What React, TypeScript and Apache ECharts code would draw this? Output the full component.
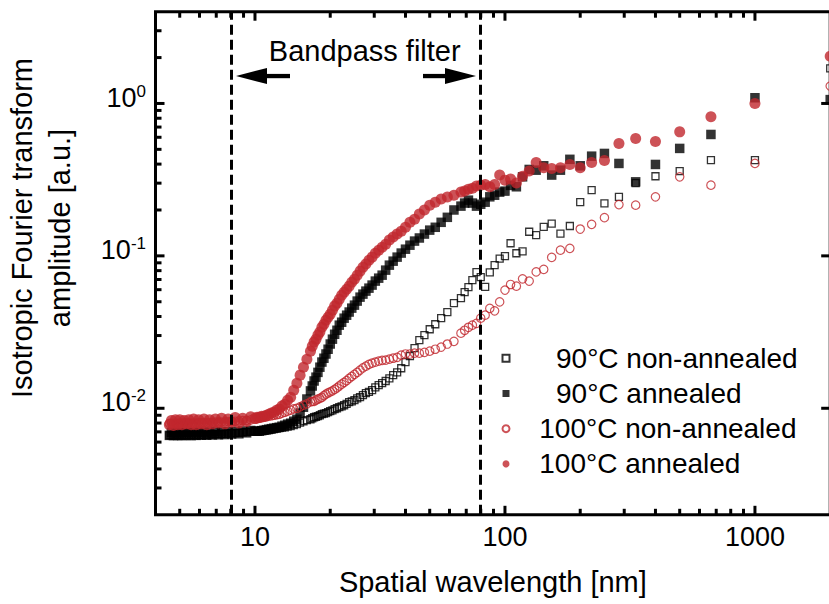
import React, { useEffect, useRef } from 'react';
import * as echarts from 'echarts';

// Spatial wavelengths (nm) of the Fourier components (shared by all four samples)
const WAVELENGTH_NM = [
  2000, 1000, 666.7, 500, 400, 333.3, 285.7, 250, 222.2, 200, 181.8, 166.7, 153.8, 142.9, 133.3, 125, 117.6, 111.1, 105.3, 100,
  95.24, 90.91, 86.96, 83.33, 80, 76.92, 74.07, 71.43, 68.97, 66.67,
  62.5, 58.82, 55.56, 52.63, 50, 47.62, 45.45, 43.48, 41.67, 40, 38.46, 37.04, 35.71, 34.48, 33.33,
  32.26, 31.25, 30.3, 29.41, 28.57, 27.78, 27.03, 26.32, 25.64, 25, 24.39, 23.81, 23.26, 22.73, 22.22,
  21.74, 21.28, 20.83, 20.41, 20, 19.61, 19.23, 18.87, 18.52, 18.18, 17.86, 17.54, 17.24, 16.95, 16.67,
  16.13, 15.63, 15.15, 14.71, 14.29, 13.89, 13.51, 13.16, 12.82, 12.5, 12.2, 11.9, 11.63, 11.36, 11.11,
  10.87, 10.64, 10.42, 10.2, 10,
  9.615, 9.259, 8.929, 8.621, 8.333, 8.065, 7.813, 7.576, 7.353, 7.143, 6.944, 6.757, 6.579, 6.41, 6.25,
  6.098, 5.952, 5.814, 5.682, 5.556, 5.435, 5.319, 5.208, 5.102, 5, 4.902, 4.808, 4.717, 4.63, 4.545,
];

const NON_ANNEALED_90 = [
  1.70, 0.425, 0.425, 0.36, 0.333, 0.30, 0.244, 0.221, 0.27, 0.225, 0.157, 0.140, 0.163, 0.155, 0.137, 0.144, 0.107, 0.104, 0.121, 0.0995,
  0.096, 0.087, 0.078, 0.0626, 0.0725, 0.0782, 0.0693, 0.0623, 0.0578, 0.0528,
  0.0489, 0.0428, 0.039, 0.0356, 0.033, 0.0302, 0.028, 0.0248, 0.022, 0.0201, 0.0183, 0.0172, 0.0165, 0.0157, 0.0151,
  0.0146, 0.0142, 0.0137, 0.01315, 0.0128, 0.01256, 0.0122, 0.01183, 0.0116, 0.0113, 0.0111, 0.01096, 0.0107, 0.01047, 0.0103,
  0.01016, 0.0100, 0.00987, 0.0097, 0.00958, 0.00944, 0.0093, 0.00922, 0.00914, 0.009, 0.00887, 0.0088, 0.00873, 0.0086, 0.00847,
  0.00835, 0.00822, 0.00805, 0.00787, 0.00775, 0.00763, 0.00757, 0.00751, 0.00746, 0.0074, 0.00735, 0.00729, 0.00724, 0.00718, 0.00716,
  0.00713, 0.0071, 0.00707, 0.00705, 0.00707,
  0.00703, 0.00697, 0.00695, 0.0069, 0.00687, 0.00685, 0.00683, 0.0068, 0.00678, 0.00676, 0.00676, 0.00674, 0.00672, 0.00672, 0.0067,
  0.0067, 0.00668, 0.00668, 0.00668, 0.00666, 0.00668, 0.00666, 0.00666, 0.00664, 0.00666, 0.00664, 0.00666, 0.00664, 0.00664, 0.00664,
];

const ANNEALED_90 = [
  1.06, 1.09, 0.626, 0.507, 0.398, 0.306, 0.404, 0.47, 0.451, 0.39, 0.43, 0.365, 0.339, 0.39, 0.365, 0.369, 0.33, 0.284, 0.29, 0.266,
  0.262, 0.25, 0.244, 0.225, 0.218, 0.212, 0.222, 0.232, 0.222, 0.212,
  0.200, 0.179, 0.166, 0.154, 0.1475, 0.139, 0.131, 0.125, 0.1175, 0.1106, 0.1043, 0.0981, 0.0923, 0.0869, 0.0806,
  0.0747, 0.0714, 0.0683, 0.0643, 0.0614, 0.0587, 0.0561, 0.0536, 0.0505, 0.0475, 0.0454, 0.0428, 0.0408, 0.039, 0.0367,
  0.0351, 0.0325, 0.0306, 0.0284, 0.0264, 0.0244, 0.0227, 0.0213, 0.0201, 0.0186, 0.0172, 0.016, 0.0151, 0.014, 0.013,
  0.0115, 0.01016, 0.0093, 0.00847, 0.00822, 0.00798, 0.00787, 0.00774, 0.00763, 0.00751, 0.00746, 0.0074, 0.00735, 0.00729, 0.00724,
  0.00718, 0.00713, 0.00707, 0.00707, 0.00707,
  0.00715, 0.0069, 0.0071, 0.0068, 0.00705, 0.00678, 0.00702, 0.00672, 0.007, 0.0067, 0.007, 0.00668, 0.00698, 0.00665, 0.00698,
  0.00665, 0.00696, 0.00664, 0.00698, 0.00662, 0.00696, 0.00664, 0.00695, 0.00662, 0.00696, 0.00663, 0.00695, 0.00662, 0.00694, 0.00664,
];

const NON_ANNEALED_100 = [
  1.30, 0.404, 0.291, 0.33, 0.244, 0.215, 0.217, 0.178, 0.161, 0.150, 0.112, 0.109, 0.0977, 0.0815, 0.0785, 0.0683, 0.0707, 0.0633, 0.0649, 0.0596,
  0.0499, 0.0436, 0.0452, 0.0408, 0.039, 0.0361, 0.0351, 0.034, 0.0325, 0.0311,
  0.0275, 0.0264, 0.0252, 0.0244, 0.0237, 0.0233, 0.023, 0.023, 0.0227, 0.0227, 0.0223, 0.0216, 0.0213, 0.021, 0.0207,
  0.0206, 0.0204, 0.0201, 0.0198, 0.0194, 0.0189, 0.0184, 0.0178, 0.0172, 0.0167, 0.0162, 0.0157, 0.0152, 0.0148, 0.0144,
  0.014, 0.0136, 0.0133, 0.013, 0.0128, 0.0126, 0.0124, 0.0121, 0.0118, 0.0116, 0.0115, 0.0113, 0.0111, 0.0111, 0.011,
  0.0107, 0.0105, 0.0102, 0.01, 0.0099, 0.00972, 0.00957, 0.00942, 0.00928, 0.00914, 0.00907, 0.009, 0.00893, 0.00887, 0.0088,
  0.00873, 0.00867, 0.0086, 0.00853, 0.00847,
  0.0084, 0.00834, 0.0083, 0.00826, 0.00822, 0.0082, 0.00818, 0.00815, 0.00812, 0.0081, 0.0081, 0.00808, 0.00806, 0.00806, 0.00804,
  0.00803, 0.00802, 0.008, 0.008, 0.008, 0.008, 0.00798, 0.00798, 0.00798, 0.00798, 0.00796, 0.00796, 0.00796, 0.00796, 0.00796,
];

const ANNEALED_100 = [
  2.04, 1.00, 0.817, 0.651, 0.563, 0.589, 0.547, 0.423, 0.410, 0.378, 0.398, 0.378, 0.374, 0.378, 0.41, 0.36, 0.333, 0.301, 0.319, 0.314,
  0.339, 0.294, 0.284, 0.294, 0.291, 0.287, 0.278, 0.274, 0.266, 0.262,
  0.250, 0.243, 0.236, 0.225, 0.215, 0.200, 0.188, 0.174, 0.166, 0.154, 0.145, 0.139, 0.133, 0.127, 0.119,
  0.114, 0.109, 0.104, 0.0981, 0.0937, 0.0883, 0.0843, 0.0794, 0.0747, 0.0703, 0.0672, 0.0633, 0.0604, 0.0578, 0.0552,
  0.052, 0.0489, 0.0468, 0.044, 0.0414, 0.0396, 0.0378, 0.0356, 0.034, 0.0316, 0.0302, 0.0284, 0.0272, 0.0255, 0.0237,
  0.021, 0.0186, 0.0165, 0.0146, 0.01315, 0.0118, 0.0113, 0.01064, 0.01033, 0.00987, 0.00972, 0.00942, 0.0093, 0.00914, 0.009,
  0.00887, 0.00887, 0.00873, 0.00873, 0.0086,
  0.0088, 0.0082, 0.0086, 0.008, 0.0087, 0.0081, 0.0085, 0.0079, 0.0086, 0.008, 0.0085, 0.0079, 0.0084, 0.0078, 0.0085,
  0.0079, 0.0084, 0.0078, 0.0085, 0.0078, 0.0084, 0.0079, 0.0083, 0.0078, 0.0084, 0.0078, 0.0084, 0.0077, 0.0083, 0.0078,
];

const SERIES_NAMES = ['90°C non-annealed', '90°C annealed', '100°C non-annealed', '100°C annealed'];

const X_RANGE = [4, 2000];
const Y_RANGE = [0.002, 4];
const BANDPASS_EDGES = [8, 80];

const X_MAJOR_TICKS = [10, 100, 1000];
const X_MINOR_TICKS = [5, 6, 7, 8, 9, 20, 30, 40, 50, 60, 70, 80, 90, 200, 300, 400, 500, 600, 700, 800, 900];
const Y_MAJOR_TICKS = [0.01, 0.1, 1];
const Y_MINOR_TICKS = [
  0.003, 0.004, 0.005, 0.006, 0.007, 0.008, 0.009,
  0.02, 0.03, 0.04, 0.05, 0.06, 0.07, 0.08, 0.09,
  0.2, 0.3, 0.4, 0.5, 0.6, 0.7, 0.8, 0.9,
  2, 3,
];

const FONT = '"Liberation Sans", Arial, Helvetica, sans-serif';
const RED = '#c1272d';
const BLACK = '#000000';

const MAJOR_LEN = 9;
const MINOR_LEN = 6;
const TICK_W = 3;

const GRID = { left: 155.5, top: 11.7, right: 29.8, bottom: 89.2 };
const CHART_W = 860;
const CHART_H = 604;

function decadeExp(v: number): number | null {
  const l = Math.log10(v);
  const r = Math.round(l);
  return Math.abs(l - r) < 1e-6 ? r : null;
}

// Frame and tick marks drawn as graphic shapes along the grid (same log mapping as the axes)
function buildFrameGraphics(): any[] {
  const x0 = GRID.left;
  const x1 = CHART_W - GRID.right;
  const y0 = GRID.top;
  const y1 = CHART_H - GRID.bottom;
  const lx0 = Math.log10(X_RANGE[0]);
  const lx1 = Math.log10(X_RANGE[1]);
  const ly0 = Math.log10(Y_RANGE[0]);
  const ly1 = Math.log10(Y_RANGE[1]);
  const xPix = (v: number) => x0 + ((Math.log10(v) - lx0) / (lx1 - lx0)) * (x1 - x0);
  const yPix = (v: number) => y1 - ((Math.log10(v) - ly0) / (ly1 - ly0)) * (y1 - y0);

  const out: any[] = [
    {
      type: 'rect',
      shape: { x: x0, y: y0, width: x1 - x0, height: y1 - y0 },
      style: { fill: 'none', stroke: BLACK, lineWidth: 3 },
    },
  ];
  const add = (x: number, y: number, w: number, h: number) => {
    out.push({ type: 'rect', shape: { x, y, width: w, height: h }, style: { fill: BLACK } });
  };
  const xTicks = [
    ...X_MINOR_TICKS.map((v) => ({ v, len: MINOR_LEN })),
    ...X_MAJOR_TICKS.map((v) => ({ v, len: MAJOR_LEN })),
  ];
  const yTicks = [
    ...Y_MINOR_TICKS.map((v) => ({ v, len: MINOR_LEN })),
    ...Y_MAJOR_TICKS.map((v) => ({ v, len: MAJOR_LEN })),
  ];
  xTicks.forEach((t) => {
    const px = xPix(t.v);
    add(px - TICK_W / 2, y1 - t.len, TICK_W, t.len);
    add(px - TICK_W / 2, y0, TICK_W, t.len);
  });
  yTicks.forEach((t) => {
    const py = yPix(t.v);
    add(x0, py - TICK_W / 2, t.len, TICK_W);
    if (t.len === MAJOR_LEN) add(x1 - t.len, py - TICK_W / 2, t.len, TICK_W);
  });
  return out;
}

export default function App() {
  const ref = useRef<HTMLDivElement>(null);

  useEffect(() => {
    if (!ref.current) return;
    const chart = echarts.init(ref.current, undefined, { renderer: 'svg' });

    const pts = (arr: number[]) => WAVELENGTH_NM.map((w, i) => [w, arr[i]]);

    const graphics: any[] = [
      ...buildFrameGraphics(),
      {
        type: 'text',
        x: 364.7,
        y: 50.7,
        style: {
          text: 'Bandpass filter',
          fontSize: 29,
          fontFamily: FONT,
          fill: BLACK,
          align: 'center',
          verticalAlign: 'middle',
        },
      },
      { type: 'polygon', shape: { points: [[236, 76], [267, 68], [267, 84]] }, style: { fill: BLACK } },
      { type: 'rect', shape: { x: 265, y: 73.9, width: 25, height: 4.3 }, style: { fill: BLACK } },
      { type: 'polygon', shape: { points: [[476, 76], [445, 68], [445, 84]] }, style: { fill: BLACK } },
      { type: 'rect', shape: { x: 423, y: 73.9, width: 24, height: 4.3 }, style: { fill: BLACK } },
      {
        type: 'text',
        x: 41,
        y: 228,
        rotation: Math.PI / 2,
        style: {
          text: 'Isotropic Fourier transform\namplitude [a.u.]',
          fontSize: 29,
          lineHeight: 38,
          fontFamily: FONT,
          fill: BLACK,
          align: 'center',
          verticalAlign: 'middle',
        },
      },
    ];

    const option: any = {
      animation: false,
      grid: { ...GRID, containLabel: false },
      xAxis: {
        type: 'log',
        logBase: 10,
        min: X_RANGE[0],
        max: X_RANGE[1],
        position: 'bottom',
        axisLine: { show: false },
        axisTick: { show: false },
        splitLine: { show: false },
        axisLabel: {
          color: BLACK,
          fontSize: 27,
          fontFamily: FONT,
          margin: 8.5,
          formatter: (v: number) => {
            const e = decadeExp(v);
            return e !== null && e >= 1 && e <= 3 ? String(Math.pow(10, e)) : '';
          },
        },
        name: 'Spatial wavelength [nm]',
        nameLocation: 'middle',
        nameGap: 53,
        nameTextStyle: { color: BLACK, fontSize: 29, fontFamily: FONT },
      },
      yAxis: {
        type: 'log',
        logBase: 10,
        min: Y_RANGE[0],
        max: Y_RANGE[1],
        position: 'left',
        axisLine: { show: false },
        axisTick: { show: false },
        splitLine: { show: false },
        axisLabel: {
          margin: 9.5,
          padding: [0, 0, 11.6, 0],
          formatter: (v: number) => {
            const e = decadeExp(v);
            return e !== null && e >= -2 && e <= 0 ? `{b|10}{s|${e}}` : '';
          },
          rich: {
            b: { fontSize: 27, lineHeight: 30, fontFamily: FONT, color: BLACK },
            s: { fontSize: 17, lineHeight: 17, fontFamily: FONT, color: BLACK, verticalAlign: 'top' },
          },
        },
      },
      legend: {
        data: SERIES_NAMES,
        orient: 'vertical',
        left: 501.5,
        top: 343.3,
        padding: 0,
        itemGap: 5.2,
        itemWidth: 7,
        itemHeight: 7,
        selectedMode: false,
        formatter: (name: string) => (name.startsWith('90') ? `{n|${name}}` : `{w|${name}}`),
        textStyle: {
          color: BLACK,
          fontSize: 28,
          fontFamily: FONT,
          lineHeight: 30,
          rich: {
            n: { fontSize: 28, fontFamily: FONT, color: BLACK, lineHeight: 30, padding: [0, 0, 0, 41.5] },
            w: { fontSize: 28, fontFamily: FONT, color: BLACK, lineHeight: 30, padding: [0, 0, 0, 24.8] },
          },
        },
      },
      graphic: graphics,
      series: [
        {
          name: SERIES_NAMES[0],
          type: 'scatter',
          symbol: 'rect',
          symbolSize: 7,
          itemStyle: { color: 'rgba(255,255,255,0)', borderColor: BLACK, borderWidth: 1.3 },
          data: pts(NON_ANNEALED_90),
        },
        {
          name: SERIES_NAMES[1],
          type: 'scatter',
          symbol: 'rect',
          symbolSize: 9.5,
          itemStyle: { color: BLACK },
          data: pts(ANNEALED_90),
        },
        {
          name: SERIES_NAMES[2],
          type: 'scatter',
          symbol: 'circle',
          symbolSize: 8.4,
          itemStyle: { color: 'rgba(255,255,255,0)', borderColor: RED, borderWidth: 1.2 },
          data: pts(NON_ANNEALED_100),
        },
        {
          name: SERIES_NAMES[3],
          type: 'scatter',
          symbol: 'circle',
          symbolSize: 11,
          itemStyle: { color: RED },
          data: pts(ANNEALED_100),
          markLine: {
            silent: true,
            symbol: ['none', 'none'],
            label: { show: false },
            lineStyle: { color: BLACK, width: 3, type: [10, 5] },
            data: BANDPASS_EDGES.map((v) => ({ xAxis: v })),
          },
        },
      ],
    };

    try {
      chart.setOption(option);
    } catch (e) {
      /* keep whatever was rendered */
    }

    return () => chart.dispose();
  }, []);

  return (
    <div
      ref={ref}
      style={{ position: 'fixed', left: 0, top: 0, width: CHART_W, height: CHART_H, background: '#ffffff' }}
    />
  );
}
